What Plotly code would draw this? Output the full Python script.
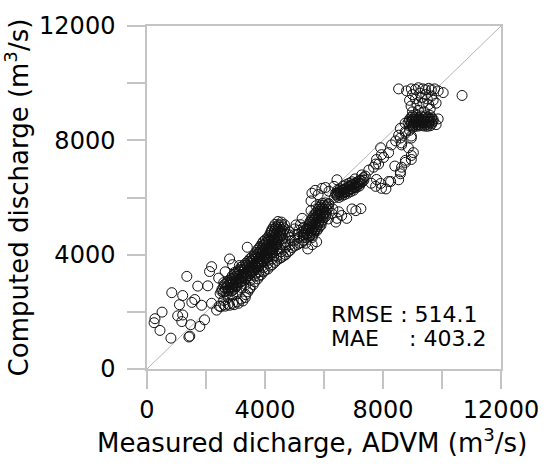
import plotly.graph_objects as go

# ---------------- data ----------------
# sparse low-discharge points
a_x = [270, 510, 440, 810, 1420, 840, 1350, 1210, 1520, 1720, 2120, 2190, 2430, 2800,
       2060, 1850, 1950, 1790, 1480, 1180, 1450, 1210, 2190, 2360, 3130, 3400, 240,
       1040, 1620, 2900, 2970, 2600, 1100, 2650]
a_y = [1760, 1990, 1350, 1080, 1120, 2670, 3240, 2570, 2330, 2900, 3410, 3580, 3180, 3850,
       2910, 2230, 1720, 1490, 1550, 1660, 1150, 1890, 2300, 2060, 3620, 4260, 1620,
       1860, 2430, 3650, 3380, 3020, 2250, 3400]

# upper dense band (computed above measured)
b_x = [2480, 2590, 2700,
       2530, 2640, 2750, 2850,
       2540, 2660, 2760, 2870, 2960,
       2600, 2710, 2810, 2910, 3010,
       2630, 2740, 2850, 2950, 3060,
       2710, 2820, 2920, 3030, 3130,
       2780, 2890, 3000, 3110, 3210,
       2840, 2950, 3050, 3160, 3260, 3350,
       2890, 3000, 3110, 3210, 3310, 3400,
       2970, 3080, 3180, 3290, 3390, 3500,
       3040, 3150, 3250, 3350, 3460, 3560,
       3110, 3220, 3320, 3430, 3530, 3630,
       3190, 3300, 3400, 3510, 3610, 3700,
       3260, 3370, 3470, 3580, 3680, 3780,
       3340, 3450, 3550, 3650, 3760, 3860,
       3420, 3530, 3630, 3740, 3840, 3940,
       3490, 3600, 3700, 3810, 3910, 4010,
       3560, 3670, 3770, 3880, 3980, 4080,
       3640, 3750, 3850, 3960, 4060, 4150,
       3690, 3800, 3900, 4010, 4110, 4210,
       3740, 3850, 3950, 4060, 4160, 4260,
       3790, 3900, 4000, 4110, 4210, 4310,
       3840, 3950, 4050, 4160, 4260, 4350,
       3890, 4000, 4100, 4210, 4310, 4410,
       3940, 4050, 4150, 4260, 4360, 4460,
       4010, 4120, 4220, 4330, 4430,
       4090, 4200, 4300, 4410, 4510,
       4140, 4250, 4350, 4460, 4560,
       4190, 4300, 4400, 4510, 4610,
       4210, 4320, 4420, 4530, 4630,
       4240, 4350, 4450, 4560, 4660,
       4290, 4400, 4500, 4610,
       4340, 4450, 4550, 4660,
       4440, 4560]
b_y = [2640, 2680, 2630,
       2720, 2710, 2730, 2720,
       2790, 2820, 2780, 2830, 2800,
       2870, 2880, 2860, 2870, 2880,
       2960, 2930, 2970, 2940, 2960,
       3020, 3030, 3010, 3020, 3030,
       3090, 3120, 3080, 3110, 3090,
       3170, 3180, 3160, 3170, 3180, 3170,
       3260, 3240, 3270, 3230, 3260, 3250,
       3320, 3330, 3310, 3320, 3330, 3320,
       3390, 3420, 3400, 3380, 3410, 3400,
       3470, 3480, 3460, 3470, 3480, 3470,
       3560, 3540, 3570, 3550, 3530, 3560,
       3620, 3630, 3610, 3620, 3630, 3620,
       3690, 3720, 3700, 3680, 3710, 3700,
       3770, 3780, 3760, 3770, 3780, 3770,
       3860, 3840, 3870, 3850, 3830, 3860,
       3920, 3930, 3910, 3920, 3930, 3920,
       3990, 4020, 4000, 3980, 4010, 4000,
       4070, 4080, 4060, 4070, 4080, 4070,
       4160, 4140, 4170, 4150, 4130, 4160,
       4220, 4230, 4210, 4220, 4230, 4220,
       4290, 4320, 4300, 4280, 4310, 4300,
       4370, 4380, 4360, 4370, 4380, 4370,
       4460, 4440, 4470, 4450, 4430, 4460,
       4520, 4530, 4510, 4520, 4530,
       4590, 4620, 4600, 4580, 4610,
       4670, 4680, 4660, 4670, 4680,
       4760, 4740, 4770, 4750, 4730,
       4820, 4830, 4810, 4820, 4830,
       4890, 4920, 4900, 4880, 4910,
       4970, 4980, 4960, 4970,
       5060, 5040, 5070, 5050,
       5160, 5140]

# lower band (computed below measured)
c_x = [2450, 2600, 2600, 2750, 2750, 2900, 2900, 2900, 3050, 3050, 3050,
       3200, 3200, 3200, 3350, 3350, 3350, 3500, 3500, 3500, 3650, 3650, 3650,
       3800, 3800, 3800, 3950, 3950, 3950, 4100, 4100, 4100, 4250, 4250, 4250,
       4400, 4400, 4400, 4550, 4550, 4550, 4700, 4700, 4700, 4850, 4850, 4850,
       5000, 5000, 5000, 5150, 5150, 5150, 5300, 5300, 5300, 5450, 5600, 5750,
       3600, 3800, 4000, 4200, 4400, 4600, 4800, 5000, 5200,
       2500, 2650, 2800, 2950, 3100, 3250, 3330, 3420, 3480, 3600, 3750, 3870,
       4000, 4180, 4330, 4500, 4620, 4780, 4920, 5100, 5250, 5380,
       3700, 3900, 4100, 4300, 4500, 4700, 4900, 5100, 5250, 5400]
c_y = [2200, 2250, 2400, 2270, 2500, 2300, 2600, 2750, 2350, 2700, 2900,
       2450, 2850, 3050, 2600, 2950, 3200, 2850, 3100, 3350, 3050, 3250, 3450,
       3250, 3400, 3600, 3400, 3550, 3750, 3500, 3700, 3900, 3650, 3850, 4050,
       3800, 3950, 4200, 3900, 4100, 4350, 4000, 4250, 4450, 4150, 4350, 4600,
       4300, 4500, 4700, 4400, 4600, 4850, 4500, 4700, 4950, 4200, 4350, 4450,
       3550, 3750, 3950, 4150, 4350, 4550, 4700, 4900, 5050,
       2180, 2200, 2230, 2250, 2300, 2380, 2500, 2700, 2800, 2950, 3150, 3300,
       3450, 3600, 3730, 3870, 3950, 4100, 4250, 4350, 4420, 4400,
       3350, 3600, 3800, 3950, 4200, 4350, 4500, 4700, 4800, 4900]

# dense cluster around 5500-6200
c2_x = [5300, 5400, 5500, 5600,
        5320, 5420, 5520, 5620,
        5350, 5450, 5550, 5650,
        5380, 5480, 5580, 5680, 5760,
        5400, 5500, 5600, 5700, 5800,
        5450, 5550, 5650, 5750, 5850,
        5500, 5600, 5700, 5800, 5900,
        5520, 5620, 5720, 5820, 5920,
        5550, 5650, 5750, 5850, 5950,
        5600, 5700, 5800, 5900, 6000,
        5650, 5750, 5850, 5950, 6050,
        5700, 5800, 5900, 6000, 6080,
        5750, 5850, 5950, 6050,
        5800, 5900, 6000, 6100,
        5850, 5950, 6050, 6150,
        5900, 6000, 6100,
        5950, 6050, 6150,
        5560, 5730, 5050, 5260, 4820]
c2_y = [4610, 4590, 4620, 4600,
        4680, 4690, 4670, 4680,
        4760, 4740, 4770, 4750,
        4830, 4840, 4820, 4830, 4840,
        4890, 4920, 4900, 4880, 4910,
        4980, 4990, 4970, 4980, 4990,
        5060, 5040, 5070, 5050, 5030,
        5130, 5140, 5120, 5130, 5140,
        5190, 5220, 5200, 5180, 5210,
        5280, 5290, 5270, 5280, 5290,
        5360, 5340, 5370, 5350, 5330,
        5430, 5440, 5420, 5430, 5440,
        5490, 5520, 5500, 5480,
        5580, 5590, 5570, 5580,
        5660, 5640, 5670, 5650,
        5720, 5730, 5710,
        5790, 5810, 5780,
        5540, 5710, 5040, 5270, 4800]

# scattered points right of that cluster
s_x = [6170, 6270, 6400, 6600, 6770, 7080, 7250, 6440, 6950, 6300, 6500, 6150]
s_y = [5780, 5440, 5140, 5370, 5270, 5540, 5610, 5270, 5600, 5600, 5500, 5250]

# dense cluster around 6500-7400
d_x = [6350, 6400, 6450, 6500, 6550, 6600, 6650, 6700, 6750, 6800, 6850, 6900,
       6950, 7000, 7050, 7100, 7150, 7200, 7250, 7300, 7350, 7400, 6500, 6600,
       6450, 6550, 6650, 6750, 6850, 6950, 7050, 6700, 6800, 6900, 7000, 7100, 7200,
       6400, 6500, 6600, 6700, 6800, 6900, 7000, 7100, 7200, 7300,
       6550, 6650, 6750, 6850, 6950, 7050, 7150, 7250, 6450, 7350,
       5590, 5930, 6170, 5560, 5800, 6050, 5700, 6340, 6440]
d_y = [6000, 6150, 6050, 6200, 6100, 6250, 6150, 6300, 6200, 6350, 6250, 6400,
       6300, 6450, 6350, 6500, 6450, 6600, 6500, 6650, 6600, 6750, 6000, 6050,
       6250, 6300, 6400, 6450, 6500, 6550, 6650, 6100, 6150, 6200, 6250, 6350, 6400,
       6100, 6150, 6150, 6200, 6250, 6300, 6350, 6400, 6500, 6550,
       6200, 6250, 6300, 6400, 6450, 6500, 6550, 6600, 6150, 6700,
       6150, 6320, 6220, 5880, 6100, 6350, 6250, 6390, 6620]

# points between 7300 and 9000
e_x = [7750, 7920, 7950, 8190, 7780, 7280, 7520, 7750, 7780, 7950, 7920, 8190,
       8290, 8430, 8590, 8630, 8760, 8960, 8590, 8630, 8960, 9030, 8760, 8530,
       8590, 8760, 8960, 8630, 8530, 8590, 8760, 8960, 8860, 8020, 7850, 7680,
       8260, 7600, 8100, 8400, 8900, 9000]
e_y = [6390, 6490, 6320, 6560, 6630, 6790, 6960, 7170, 7330, 7500, 7740, 7570,
       7840, 7980, 8080, 7910, 8250, 8150, 6900, 7060, 7330, 7570, 7300, 6620,
       6830, 7230, 7470, 7840, 8180, 8420, 8310, 8080, 7740, 7400, 7170, 7060,
       6560, 6500, 6300, 7100, 8350, 8450]

# dense cluster near 9000-9700 and top group
f_x = [8900, 9000, 9100, 9200, 9300, 9400, 9500, 9600,
       8950, 9050, 9150, 9250, 9350, 9450, 9550, 9650,
       8850, 8950, 9050, 9150, 9250, 9350, 9450, 9550, 9650,
       8900, 9000, 9100, 9200, 9300, 9400, 9500, 9600, 9700,
       8900, 9000, 9100, 9200, 9300, 9400, 9500, 9600, 9700,
       8950, 9080, 9220, 9370, 9520, 9650,
       9000, 9150, 9300, 9450, 9600, 9870, 8750, 9800,
       9000, 9200, 9400, 9600, 8950, 9150, 9350, 9550, 9100, 9300, 9500, 9700,
       9000, 9250, 9450, 9650, 8900, 9800,
       8530, 8800, 8960, 9200, 9440, 9640, 9870, 10040, 9100, 9350, 9550, 9750, 10680]
f_y = [8500, 8510, 8490, 8500, 8520, 8500, 8490, 8510,
       8560, 8570, 8550, 8560, 8570, 8550, 8560, 8570,
       8620, 8630, 8610, 8620, 8640, 8620, 8610, 8630, 8620,
       8680, 8690, 8670, 8680, 8690, 8670, 8680, 8690, 8670,
       8740, 8730, 8750, 8740, 8730, 8740, 8750, 8740, 8730,
       8800, 8810, 8790, 8800, 8810, 8790,
       8860, 8870, 8850, 8860, 8870, 8750, 8600, 8550,
       9000, 9050, 9000, 9100, 9200, 9250, 9300, 9250, 9450, 9500, 9450, 9400,
       9600, 9650, 9600, 9550, 9400, 9300,
       9800, 9730, 9800, 9840, 9770, 9770, 9730, 9670, 9780, 9800, 9820, 9800, 9570]

diag = [0, 12000]
tick_vals = [0, 2000, 4000, 6000, 8000, 10000, 12000]
tick_text = ["0", "", "4000", "", "8000", "", "12000"]

all_x = a_x + b_x + c_x + c2_x + s_x + d_x + e_x + f_x
all_y = a_y + b_y + c_y + c2_y + s_y + d_y + e_y + f_y

FONT = "DejaVu Sans"
GRAY = "#c4c4c4"

fig = go.Figure()
fig.add_trace(go.Scatter(x=diag, y=diag, mode="lines",
                         line=dict(color="#b4b4b4", width=1), hoverinfo="skip",
                         showlegend=False))
fig.add_trace(go.Scatter(x=all_x, y=all_y, mode="markers",
                         marker=dict(symbol="circle-open", size=10, color="#111111",
                                     line=dict(width=1, color="#111111")),
                         showlegend=False))

axis_common = dict(range=[0, 12000], tickmode="array", tickvals=tick_vals, ticktext=tick_text,
                   ticks="outside", ticklen=18, tickwidth=1.5, tickcolor=GRAY,
                   showline=True, linecolor=GRAY, linewidth=1.5, mirror=True,
                   showgrid=False, zeroline=False,
                   tickfont=dict(family=FONT, size=24, color="black"))

fig.update_layout(
    width=551, height=466,
    margin=dict(l=147, r=48, t=14, b=97),
    paper_bgcolor="white", plot_bgcolor="white",
    font=dict(family=FONT, color="black"),
    xaxis=dict(**axis_common, ticklabelstandoff=0),
    yaxis=dict(**axis_common, ticklabelstandoff=7,
               title=dict(text="Computed discharge (m<sup>3</sup>/s)",
                          font=dict(family=FONT, size=26, color="black"), standoff=6)),
)

# x-axis title (placed slightly left of the plot centre, as in the reference)
fig.add_annotation(x=0.465, y=-0.21, xref="paper", yref="paper",
                   text="Measured dicharge, ADVM (m<sup>3</sup>/s)",
                   showarrow=False, xanchor="center", yanchor="middle",
                   font=dict(family=FONT, size=26, color="black"))

fig.add_annotation(x=6170, y=1900, xref="x", yref="y", text="RMSE : 514.1",
                   showarrow=False, xanchor="left", yanchor="middle",
                   font=dict(family=FONT, size=22, color="black"))
fig.add_annotation(x=6170, y=1060, xref="x", yref="y", text="MAE",
                   showarrow=False, xanchor="left", yanchor="middle",
                   font=dict(family=FONT, size=22, color="black"))
fig.add_annotation(x=8830, y=1060, xref="x", yref="y", text=": 403.2",
                   showarrow=False, xanchor="left", yanchor="middle",
                   font=dict(family=FONT, size=22, color="black"))

fig.write_html("out.html")
